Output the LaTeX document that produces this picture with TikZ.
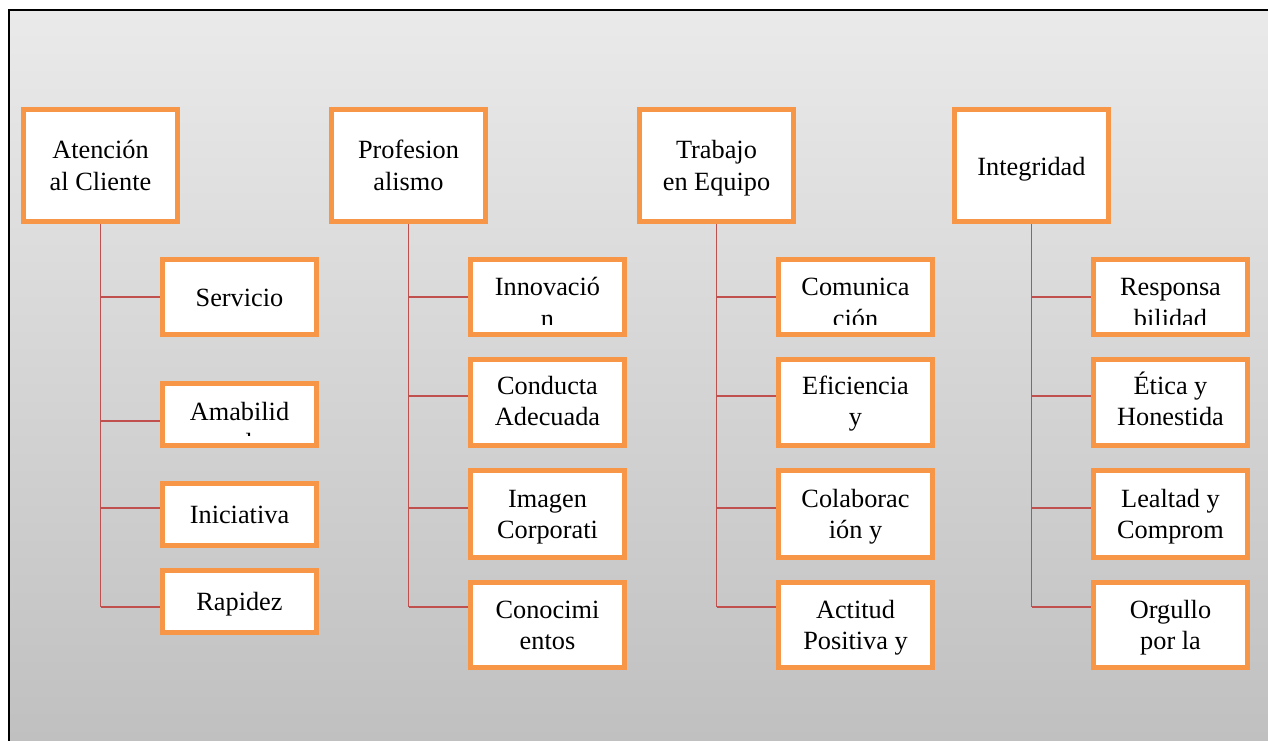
\documentclass[tikz,border=0pt]{standalone}
\usepackage{fontspec}
\setmainfont{Liberation Serif}
\definecolor{boxorange}{HTML}{F79646}
\definecolor{linered}{HTML}{C0504D}
\definecolor{bgtop}{RGB}{234,234,234}
\definecolor{bgbot}{RGB}{192,192,192}
\tikzset{
  cbox/.style={draw=boxorange, line width=5pt, fill=white, minimum width=154pt, inner sep=0pt},
  txt/.style={font=\fontsize{26.3}{31.6}\selectfont, anchor=base, inner sep=0pt, text=black},
  conn/.style={draw=linered, line width=1.6pt},
}
\newcommand\twol[2]{\begin{tabular}[t]{@{}c@{}}#1\\#2\end{tabular}}
\newcommand\childbox[6]{%
  \node[cbox, minimum height=#4pt] (#1) at (#2,#3) {};
  \begin{scope}
    \clip ([shift={(5pt,13pt)}]#1.south west) rectangle ([shift={(-5pt,-5pt)}]#1.north east);
    \node[txt] (#1t) at (#2,#5) {#6};
  \end{scope}}
\begin{document}
\begin{tikzpicture}[x=1pt,y=-1pt]
\useasboundingbox (0,0) rectangle (1268,740);
\clip (0,0) rectangle (1268,740);
\fill[white] (0,0) rectangle (1268,740);
\shade[top color=bgtop, bottom color=bgbot] (9,10) rectangle (1268,740);
\draw[black, line width=1.8pt] (1300,10) -- (9,10) -- (9,780);

% top boxes
\node[cbox, minimum height=112pt] (t1) at (100.5,165.5) {};
\node[txt] (t1t) at (100.5,158.5) {\twol{Atención}{al Cliente}};
\node[cbox, minimum height=112pt] (t2) at (408.5,165.5) {};
\node[txt] (t2t) at (408.5,158.5) {\twol{Profesion}{alismo}};
\node[cbox, minimum height=112pt] (t3) at (716.5,165.5) {};
\node[txt] (t3t) at (716.5,158.5) {\twol{Trabajo}{en Equipo}};
\node[cbox, minimum height=112pt] (t4) at (1031.5,165.5) {};
\node[txt] (t4t) at (1031.5,175) {Integridad};

% column 1
\childbox{c11}{239.5}{297}{75}{306}{Servicio}
\childbox{c12}{239.5}{414.5}{62}{420}{\twol{Amabilid}{ad}}
\childbox{c13}{239.5}{514.5}{62}{523}{Iniciativa}
\childbox{c14}{239.5}{601.5}{62}{610}{Rapidez}

% column 2
\childbox{c21}{547.5}{297}{75}{295.5}{\twol{Innovació}{n}}
\childbox{c22}{547.5}{402.5}{86}{394}{\twol{Conducta}{Adecuada}}
\childbox{c23}{547.5}{514}{87}{507}{\twol{Imagen}{Corporati}}
\childbox{c24}{547.5}{625}{85}{618}{\twol{Conocimi}{entos}}

% column 3
\childbox{c31}{855.5}{297}{75}{295.5}{\twol{Comunica}{ción}}
\childbox{c32}{855.5}{402.5}{86}{394}{\twol{Eficiencia}{y}}
\childbox{c33}{855.5}{514}{87}{507}{\twol{Colaborac}{ión y}}
\childbox{c34}{855.5}{625}{85}{618}{\twol{Actitud}{Positiva y}}

% column 4
\childbox{c41}{1170.5}{297}{75}{295.5}{\twol{Responsa}{bilidad}}
\childbox{c42}{1170.5}{402.5}{86}{394}{\twol{Ética y}{Honestida}}
\childbox{c43}{1170.5}{514}{87}{507}{\twol{Lealtad y}{Comprom}}
\childbox{c44}{1170.5}{625}{85}{618}{\twol{Orgullo}{por la}}

% branch heights
\coordinate (ya) at (0,297);
\coordinate (yb) at (0,421);
\coordinate (yc) at (0,396);
\coordinate (yd) at (0,508);
\coordinate (ye) at (0,607);

% connectors column 1
\draw[conn] (t1.south) -- (t1.south |- ye);
\draw[conn] (t1.south |- ya) -- (c11.west |- ya);
\draw[conn] (t1.south |- yb) -- (c12.west |- yb);
\draw[conn] (t1.south |- yd) -- (c13.west |- yd);
\draw[conn] (t1.south |- ye) -- (c14.west |- ye);

% connectors columns 2-4
\foreach \c in {2,3,4}{
  \draw[conn] (t\c.south) -- (t\c.south |- ye);
  \draw[conn] (t\c.south |- ya) -- (c\c1.west |- ya);
  \draw[conn] (t\c.south |- yc) -- (c\c2.west |- yc);
  \draw[conn] (t\c.south |- yd) -- (c\c3.west |- yd);
  \draw[conn] (t\c.south |- ye) -- (c\c4.west |- ye);
}
\end{tikzpicture}
\end{document}
